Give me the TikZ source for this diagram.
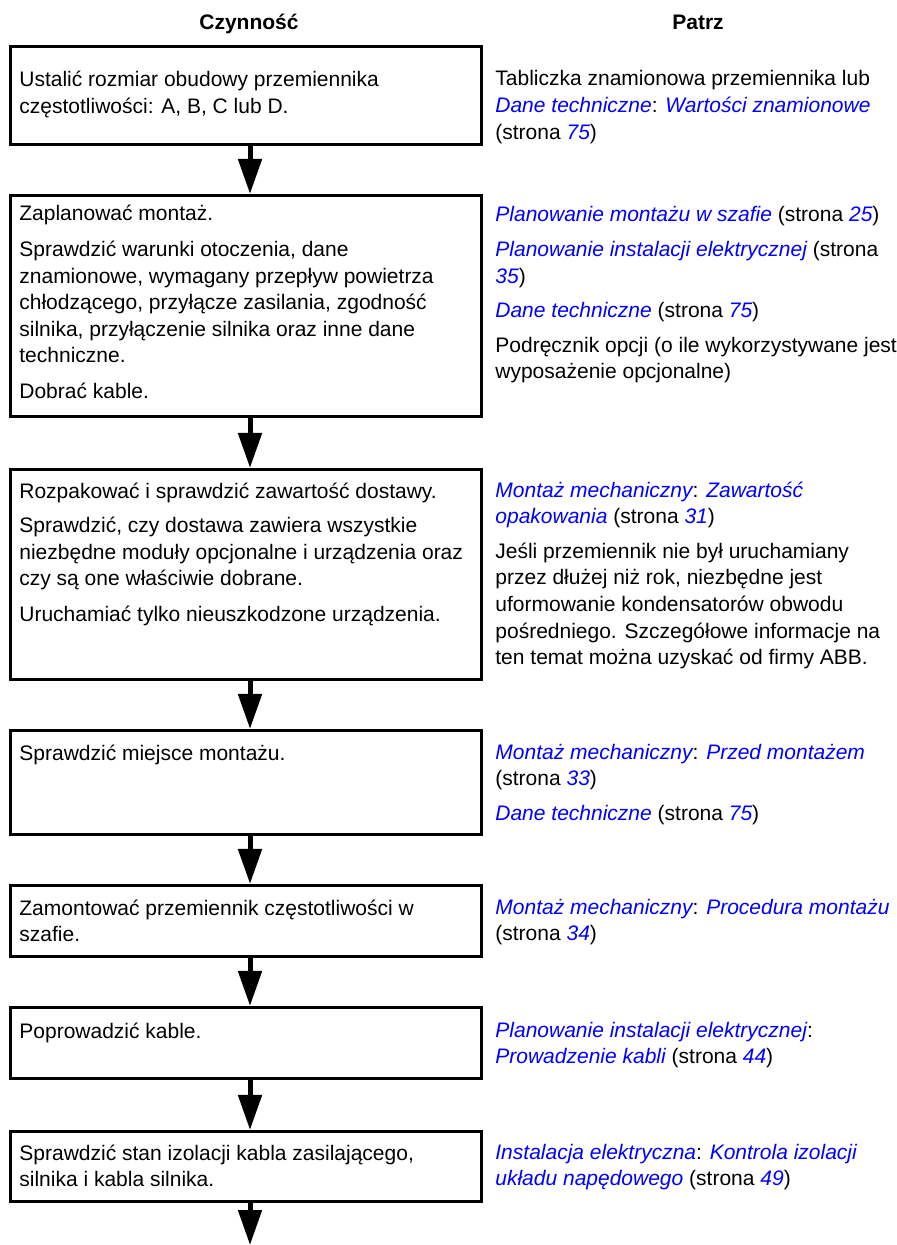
\documentclass[tikz,border=0pt]{standalone}
\usepackage{fontspec}
\setmainfont{Liberation Sans}
\usetikzlibrary{arrows.meta}
\definecolor{linkblue}{RGB}{0,0,255}
\newcommand\lnk[1]{\textcolor{linkblue}{\itshape #1}}
\newcommand\lines[1]{\begin{tabular}[t]{@{}l@{}}#1\end{tabular}}
\tikzset{
  box/.style={draw=black, line width=1.35pt, minimum width=235.5pt, inner sep=0pt, rectangle},
  txt/.style={anchor=base west, inner sep=0pt, font=\fontsize{10.5}{13.3}\selectfont},
  head/.style={anchor=base, inner sep=0pt, font=\fontsize{10.5}{13.3}\selectfont\bfseries},
  flow/.style={line width=2.5pt, -{Triangle[length=17.5pt,width=11.5pt]}}
}
\begin{document}
\begin{tikzpicture}[x=0.5pt,y=-0.5pt]
\useasboundingbox (0,0) rectangle (896,1245);
\node[head] (h1) at (249,30) {Czynność};
\node[head] (h2) at (698,30) {Patrz};
% boxes
\node[box, minimum height=49.2pt] (b1) at (246,95.5) {};
\node[box, minimum height=110.7pt] (b2) at (246,306) {};
\node[box, minimum height=105.2pt] (b3) at (246,574.5) {};
\node[box, minimum height=52.2pt] (b4) at (246,782.5) {};
\node[box, minimum height=35.7pt] (b5) at (246,921) {};
\node[box, minimum height=35.7pt] (b6) at (246,1043) {};
\node[box, minimum height=35.2pt] (b7) at (246,1166.5) {};
\coordinate (end) at (250,1245);
% arrows
\draw[flow] ([xshift=2pt]b1.south) -- ([xshift=2pt]b2.north);
\draw[flow] ([xshift=2pt]b2.south) -- ([xshift=2pt]b3.north);
\draw[flow] ([xshift=2pt]b3.south) -- ([xshift=2pt]b4.north);
\draw[flow] ([xshift=2pt]b4.south) -- ([xshift=2pt]b5.north);
\draw[flow] ([xshift=2pt]b5.south) -- ([xshift=2pt]b6.north);
\draw[flow] ([xshift=2pt]b6.south) -- ([xshift=2pt]b7.north);
\draw[flow] ([xshift=2pt]b7.south) -- (end);
% left texts
\node[txt] (t1) at (19,87) {\lines{Ustalić rozmiar obudowy przemiennika\\częstotliwości: A, B, C lub D.}};
\node[txt] (t2) at (19,221) {\lines{Zaplanować montaż.\\[4.5pt]
Sprawdzić warunki otoczenia, dane\\
znamionowe, wymagany przepływ powietrza\\
chłodzącego, przyłącze zasilania, zgodność\\
silnika, przyłączenie silnika oraz inne dane\\
techniczne.\\[4.5pt]
Dobrać kable.}};
\node[txt] (t3) at (19,498) {\lines{Rozpakować i sprawdzić zawartość dostawy.\\[4pt]
Sprawdzić, czy dostawa zawiera wszystkie\\
niezbędne moduły opcjonalne i urządzenia oraz\\
czy są one właściwie dobrane.\\[4.5pt]
Uruchamiać tylko nieuszkodzone urządzenia.}};
\node[txt] (t4) at (19,760) {\lines{Sprawdzić miejsce montażu.}};
\node[txt] (t5) at (19,915) {\lines{Zamontować przemiennik częstotliwości w\\szafie.}};
\node[txt] (t6) at (19,1038) {\lines{Poprowadzić kable.}};
\node[txt] (t7) at (19,1160) {\lines{Sprawdzić stan izolacji kabla zasilającego,\\silnika i kabla silnika.}};
% right texts
\node[txt] (r1) at (495,86) {\lines{Tabliczka znamionowa przemiennika lub\\
\lnk{Dane techniczne}: \lnk{Wartości znamionowe}\\
(strona \lnk{75})}};
\node[txt] (r2) at (495,222) {\lines{\lnk{Planowanie montażu w szafie} (strona \lnk{25})\\[4pt]
\lnk{Planowanie instalacji elektrycznej} (strona\\
\lnk{35})\\[4pt]
\lnk{Dane techniczne} (strona \lnk{75})\\[4pt]
Podręcznik opcji (o ile wykorzystywane jest\\
wyposażenie opcjonalne)}};
\node[txt] (r3) at (495,497) {\lines{\lnk{Montaż mechaniczny}: \lnk{Zawartość}\\
\lnk{opakowania} (strona \lnk{31})\\[4pt]
Jeśli przemiennik nie był uruchamiany\\
przez dłużej niż rok, niezbędne jest\\
uformowanie kondensatorów obwodu\\
pośredniego. Szczegółowe informacje na\\
ten temat można uzyskać od firmy ABB.}};
\node[txt] (r4) at (495,759) {\lines{\lnk{Montaż mechaniczny}: \lnk{Przed montażem}\\
(strona \lnk{33})\\[4pt]
\lnk{Dane techniczne} (strona \lnk{75})}};
\node[txt] (r5) at (495,914) {\lines{\lnk{Montaż mechaniczny}: \lnk{Procedura montażu}\\
(strona \lnk{34})}};
\node[txt] (r6) at (495,1037) {\lines{\lnk{Planowanie instalacji elektrycznej}:\\
\lnk{Prowadzenie kabli} (strona \lnk{44})}};
\node[txt] (r7) at (495,1159) {\lines{\lnk{Instalacja elektryczna}: \lnk{Kontrola izolacji}\\
\lnk{układu napędowego} (strona \lnk{49})}};
\end{tikzpicture}
\end{document}
